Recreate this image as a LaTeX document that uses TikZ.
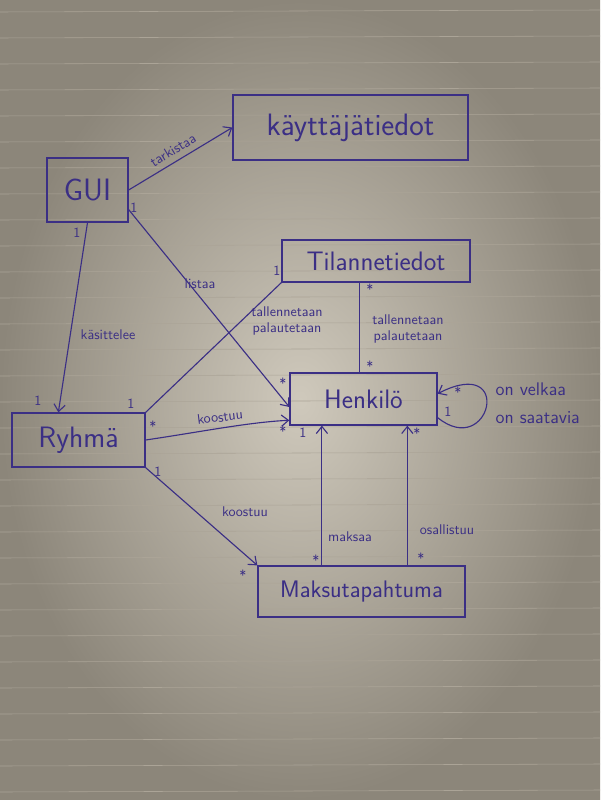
\documentclass[tikz,border=0pt]{standalone}
\usetikzlibrary{calc,arrows.meta}
\definecolor{ink}{HTML}{3B2F85}
\definecolor{paperlight}{HTML}{CFC9BC}
\definecolor{paperdark}{HTML}{8C867A}
\definecolor{rulecol}{HTML}{ABA497}
\begin{document}
\begin{tikzpicture}[x=0.025cm,y=-0.025cm,
  box/.style={draw=ink, line width=0.9pt, text=ink, inner sep=0pt, font=\sffamily\fontsize{19}{21}\selectfont},
  conn/.style={draw=ink, line width=0.8pt},
  arr/.style={conn, -{Straight Barb[length=5pt,width=8pt]}},
  lbl/.style={text=ink, font=\sffamily\fontsize{10}{11}\selectfont, inner sep=1pt, align=center},
  mult/.style={text=ink, font=\sffamily\fontsize{10}{10}\selectfont, inner sep=0pt}]
% paper
\shade[inner color=paperlight, outer color=paperdark] (0,0) rectangle (600,800);
\useasboundingbox (0,0) rectangle (600,800);
\foreach \k in {0,...,31} {
  \draw[rulecol, line width=0.4pt] (0,{12+26*\k}) -- (600,{10+26*\k});
}
% boxes
\node[box, minimum width=5.875cm, minimum height=1.625cm, font=\sffamily\fontsize{22}{24}\selectfont] (kt) at (350.5,127.5) {käyttäjätiedot};
\node[box, minimum width=2.025cm, minimum height=1.6cm, font=\sffamily\fontsize{22}{24}\selectfont] (gui) at (87.5,190) {GUI};
\node[box, minimum width=4.7cm, minimum height=1.05cm] (tila) at (376,261) {Tilannetiedot};
\node[box, minimum width=3.675cm, minimum height=1.3cm] (henk) at (363.5,399) {Henkilö};
\node[box, minimum width=3.325cm, minimum height=1.35cm, font=\sffamily\fontsize{21}{23}\selectfont] (ryhma) at (78.5,440) {Ryhmä};
\node[box, minimum width=5.175cm, minimum height=1.275cm, font=\sffamily\fontsize{17}{19}\selectfont] (maksu) at (361.5,591.5) {Maksutapahtuma};
% connectors
\draw[arr] (gui.east) -- (kt.west);
\coordinate (rtop) at ($(ryhma.north west)!0.35!(ryhma.north east)$);
\draw[arr] (gui.south) -- (rtop);
\coordinate (guilo) at ($(gui.north east)!0.8!(gui.south east)$);
\coordinate (henkl) at ($(henk.north west)!0.65!(henk.south west)$);
\draw[arr] (guilo) -- (henkl);
\draw[conn] (tila.south west) -- (ryhma.north east);
\coordinate (tbot) at ($(tila.south west)!0.415!(tila.south east)$);
\draw[conn] (tbot) -- (tbot |- henk.north);
\coordinate (henkl2) at ($(henk.north west)!0.9!(henk.south west)$);
\draw[arr] (ryhma.east) .. controls (200,432) and (250,422) .. (henkl2);
\draw[arr] (ryhma.south east) -- (maksu.north west);
\coordinate (mk1) at ($(maksu.north west)!0.31!(maksu.north east)$);
\draw[arr] (mk1) -- (mk1 |- henk.south);
\coordinate (mk2) at ($(maksu.north west)!0.72!(maksu.north east)$);
\draw[arr] (mk2) -- (mk2 |- henk.south);
\coordinate (hr1) at ($(henk.north east)!0.85!(henk.south east)$);
\coordinate (hr2) at ($(henk.north east)!0.4!(henk.south east)$);
\draw[arr] (hr1) .. controls (490,460) and (515,354) .. (hr2);
% labels
\node[lbl, rotate=31] (ltark) at (173,150) {tarkistaa};
\node[lbl] (lkas) at (108,335) {käsittelee};
\node[lbl] (llist) at (200,284) {listaa};
\node[lbl] (ltal1) at (287,321) {tallennetaan\\palautetaan};
\node[lbl] (ltal2) at (408,329) {tallennetaan\\palautetaan};
\node[lbl, rotate=7] (lkoo1) at (220,417) {koostuu};
\node[lbl] (lkoo2) at (245,512) {koostuu};
\node[lbl] (lmak) at (350,537) {maksaa};
\node[lbl] (losa) at (447,530) {osallistuu};
\node[lbl, align=left, anchor=west, font=\sffamily\fontsize{13}{20}\selectfont] (lvel) at (494,403) {on velkaa\\on saatavia};
% multiplicities
\node[mult] (n1) at (77,233) {1};
\node[mult] (n2) at (38,401) {1};
\node[mult] (n3) at (134,208) {1};
\node[mult] (n4) at (283,383) {*};
\node[mult] (n5) at (277,271) {1};
\node[mult] (n6) at (131,404) {1};
\node[mult] (n7) at (370,289) {*};
\node[mult] (n8) at (370,366) {*};
\node[mult] (n9) at (153,426) {*};
\node[mult] (n10) at (283,431) {*};
\node[mult] (n11) at (158,472) {1};
\node[mult] (n12) at (243,575) {*};
\node[mult] (n13) at (316,560) {*};
\node[mult] (n14) at (421,558) {*};
\node[mult] (n15) at (303,433) {1};
\node[mult] (n16) at (417,433) {*};
\node[mult] (n17) at (458,392) {*};
\node[mult] (n18) at (448,412) {1};
\end{tikzpicture}
\end{document}
